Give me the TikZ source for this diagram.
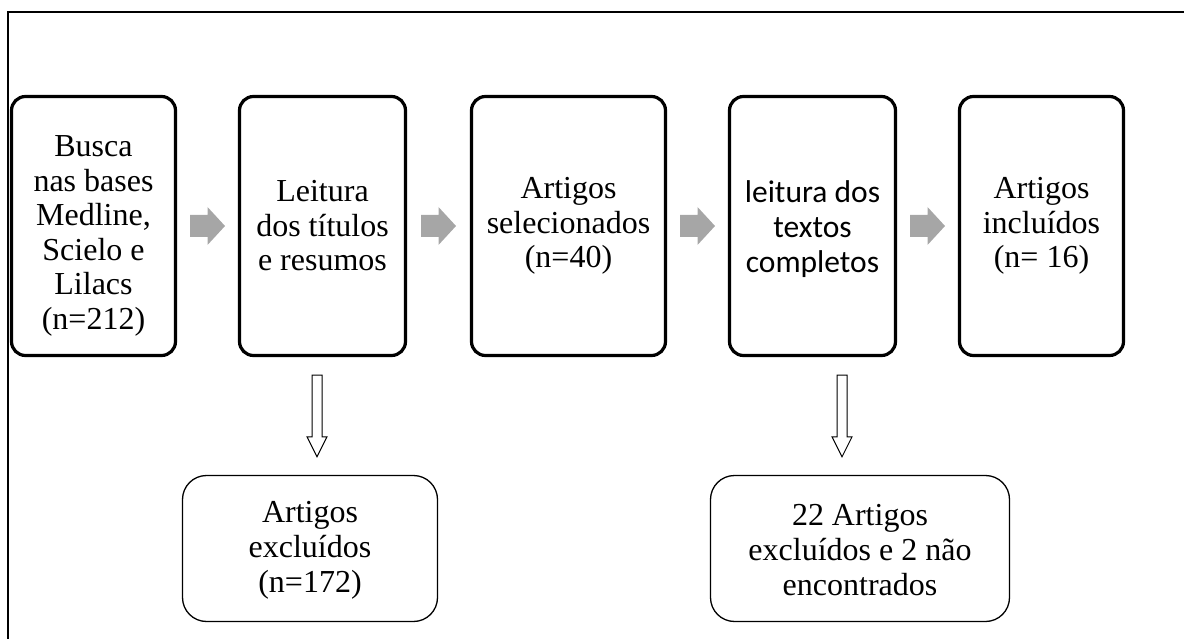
\documentclass[tikz,border=0pt]{standalone}
\usepackage{fontspec}
\setmainfont{Liberation Serif}
\newfontfamily\calib{Carlito}
\usetikzlibrary{calc}
\definecolor{arrowgray}{RGB}{166,166,166}
\newcommand\flowarrow[2]{%
  \coordinate (m) at ($(#1.east)!0.5!(#2.west)$);
  \fill[arrowgray] ($(m)+(-17.5,-11)$) -- ++(17.5,0) -- ++(0,-8) -- ++(17.5,19)
    -- ++(-17.5,19) -- ++(0,-8) -- ++(-17.5,0) -- cycle;}
\newcommand\exclarrow[3]{%
  \draw[downarrow] let \p1=($(#1.south)+(#3,18)$), \p2=($(#2.north)+(0,-18)$) in
    (\x1-5,\y1) -- (\x1+5,\y1) -- (\x1+5,\y2+20) -- (\x1+10,\y2+20) -- (\x1,\y2)
    -- (\x1-10,\y2+20) -- (\x1-5,\y2+20) -- cycle;}
\begin{document}
\begin{tikzpicture}[x=1pt,y=-1pt,
  stage/.style={draw, line width=3.2pt, rounded corners=14pt, inner sep=0pt, align=center,
    minimum height=259pt},
  stagetext/.style={align=center, inner sep=0pt, font=\fontsize{32}{34.5}\selectfont},
  excl/.style={draw, line width=1.3pt, rounded corners=24pt, inner sep=0pt, minimum height=146pt},
  excltext/.style={align=center, inner sep=0pt, font=\fontsize{32}{35}\selectfont},
  downarrow/.style={draw, line width=1pt, fill=white, line join=miter}]
\useasboundingbox (0,0) rectangle (1184,639);
\draw[line width=2pt] (8,639) -- (8,12) -- (1184,12);

\node[stage, minimum width=164pt] (b1) at (93.5,226) {};
\node[stage, minimum width=166pt] (b2) at (322.5,226) {};
\node[stage, minimum width=194pt] (b3) at (568.5,226) {};
\node[stage, minimum width=166pt] (b4) at (812.5,226) {};
\node[stage, minimum width=164pt] (b5) at (1041.5,226) {};
\node[stagetext] (t1) at (93.5,236) {Busca\\nas bases\\Medline,\\Scielo e\\Lilacs\\(n=212)};
\node[stagetext] (t2) at (322.5,226) {Leitura\\dos títulos\\e resumos};
\node[stagetext] (t3) at (568.5,226) {Artigos\\selecionados\\(n=40)};
\node[align=center, inner sep=0pt, font=\calib\fontsize{31.5}{35}\selectfont] (t4) at (812.5,229) {leitura dos\\textos\\completos};
\node[stagetext] (t5) at (1041.5,226) {Artigos\\incluídos\\(n= 16)};

\node[excl, minimum width=255pt] (b6) at (310,548.5) {};
\node[excl, minimum width=299pt] (b7) at (860,548.5) {};
\node[excltext] (t6) at (310,550) {Artigos\\excluídos\\(n=172)};
\node[excltext] (t7) at (860,550) {22 Artigos\\excluídos e 2 não\\encontrados};

\flowarrow{b1}{b2}
\flowarrow{b2}{b3}
\flowarrow{b3}{b4}
\flowarrow{b4}{b5}

\exclarrow{b2}{b6}{-5.5}
\exclarrow{b4}{b7}{29.5}
\end{tikzpicture}
\end{document}
